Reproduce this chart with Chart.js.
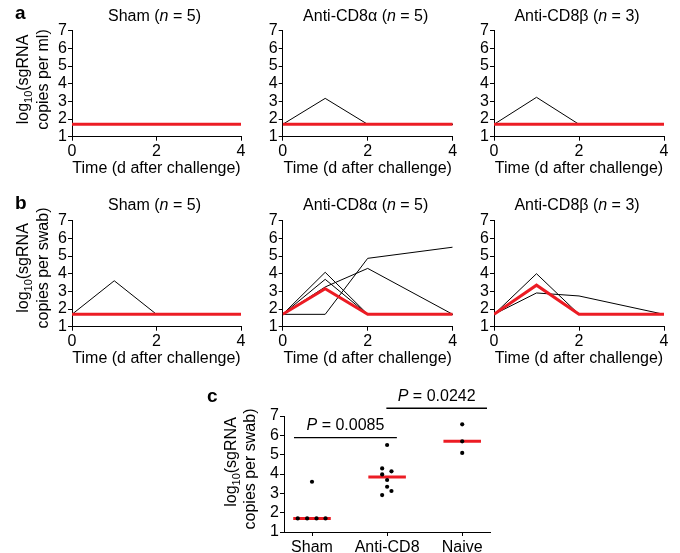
<!DOCTYPE html>
<html>
<head>
<meta charset="utf-8">
<script src="https://cdn.jsdelivr.net/npm/chart.js@4.4.1/dist/chart.umd.min.js"></script>
<style>
  html, body { margin: 0; padding: 0; background: #fff; }
  #wrap { position: relative; width: 680px; height: 553px; }
  #wrap canvas { position: absolute; left: 0; top: 0; }
</style>
</head>
<body>
<div id="wrap"></div>
<script>
// ── Data ──────────────────────────────────────────────────
const days = [0, 1, 2, 4];
const dayTicks = [0, 2, 4];
const logMin = 1;
const logMax = 7;

// a: sgRNA copies per ml, one array per animal, plus the median
const aShamAnimals = [
  [1.7, 1.7, 1.7, 1.7],
  [1.7, 1.7, 1.7, 1.7],
  [1.7, 1.7, 1.7, 1.7],
  [1.7, 1.7, 1.7, 1.7],
  [1.7, 1.7, 1.7, 1.7],
];
const aShamMedian = [1.7, 1.7, 1.7, 1.7];
const aCD8aAnimals = [
  [1.7, 3.17, 1.7, 1.7],
  [1.7, 1.7, 1.7, 1.7],
  [1.7, 1.7, 1.7, 1.7],
  [1.7, 1.7, 1.7, 1.7],
  [1.7, 1.7, 1.7, 1.7],
];
const aCD8aMedian = [1.7, 1.7, 1.7, 1.7];
const aCD8bAnimals = [
  [1.7, 3.23, 1.7, 1.7],
  [1.7, 1.7, 1.7, 1.7],
  [1.7, 1.7, 1.7, 1.7],
];
const aCD8bMedian = [1.7, 1.7, 1.7, 1.7];

// b: sgRNA copies per swab
const bShamAnimals = [
  [1.7, 3.6, 1.7, 1.7],
  [1.7, 1.7, 1.7, 1.7],
  [1.7, 1.7, 1.7, 1.7],
  [1.7, 1.7, 1.7, 1.7],
  [1.7, 1.7, 1.7, 1.7],
];
const bShamMedian = [1.7, 1.7, 1.7, 1.7];
const bCD8aAnimals = [
  [1.7, 4.08, 1.7, 1.7],
  [1.7, 3.68, 1.7, 1.7],
  [1.7, 3.25, 4.3, 1.7],
  [1.7, 1.7, 4.87, 5.5],
  [1.7, 3.15, 1.7, 1.7],
];
const bCD8aMedian = [1.7, 3.15, 1.7, 1.7];
const bCD8bAnimals = [
  [1.7, 4.0, 1.7, 1.7],
  [1.7, 2.91, 2.74, 1.7],
  [1.7, 3.35, 1.7, 1.7],
];
const bCD8bMedian = [1.7, 3.35, 1.7, 1.7];

// c: peak sgRNA per swab by group
const groups = ['Sham', 'Anti-CD8', 'Naive'];
const cShamValues = [1.7, 1.7, 1.7, 1.7, 3.6];
const cShamJitter = [-0.19, -0.065, 0.06, 0.18, 0];
const cCD8Values = [5.5, 4.29, 4.14, 3.98, 3.69, 3.34, 3.12, 2.91];
const cCD8Jitter = [0, -0.066, 0.058, -0.066, 0, 0, 0.058, -0.066];
const cNaiveValues = [6.57, 5.69, 5.09];
const cNaiveJitter = [0, 0, 0];
const cMedians = [1.7, 3.84, 5.69];
const pLabels = ['0.0085', '0.0242'];
const pBars = [[0.76, 2.13, 5.88], [1.99, 3.33, 7.4]];   // x from, x to, y

// ── Look ──────────────────────────────────────────────────
const FONT = '"Liberation Sans", Arial, Helvetica, sans-serif';
const RED = '#ec1c24';
const W = 680, H = 553;
const wrap = document.getElementById('wrap');

function addCanvas() {
  const c = document.createElement('canvas');
  c.width = W;
  c.height = H;
  wrap.appendChild(c);
  return c;
}

function axis(extra) {
  return Object.assign({
    grid: { display: true, drawOnChartArea: false, drawTicks: true, tickLength: 4, color: '#000', lineWidth: 1 },
    border: { display: true, color: '#000', width: 1 },
  }, extra);
}

// draw a run of text pieces ({t, size, italic, dy}) centred on cx
function drawRuns(ctx, runs, cx, y) {
  const fontOf = (r) => `${r.italic ? 'italic ' : ''}${r.size || 16}px ${FONT}`;
  let total = 0;
  runs.forEach((r) => { ctx.font = fontOf(r); total += ctx.measureText(r.t).width; });
  let x = cx - total / 2;
  ctx.textAlign = 'left';
  ctx.textBaseline = 'alphabetic';
  runs.forEach((r) => {
    ctx.font = fontOf(r);
    ctx.fillText(r.t, x, y + (r.dy || 0));
    x += ctx.measureText(r.t).width;
  });
}

// titles, panel letters and rotated y labels
const panelText = {
  id: 'panelText',
  afterDraw(chart, args, o) {
    const { ctx, chartArea: ca } = chart;
    ctx.save();
    ctx.fillStyle = '#000';
    if (o.title) drawRuns(ctx, o.title, (ca.left + ca.right) / 2 - 2, o.titleY);
    if (o.letter) {
      ctx.font = `bold 19px ${FONT}`;
      ctx.textAlign = 'left';
      ctx.textBaseline = 'alphabetic';
      ctx.fillText(o.letter, o.letterX, o.letterY);
    }
    if (o.yLabel) {
      o.yLabel.forEach((line) => {
        ctx.save();
        ctx.translate(line.x, line.cy);
        ctx.rotate(-Math.PI / 2);
        drawRuns(ctx, line.runs, 0, 0);
        ctx.restore();
      });
    }
    if (o.pTexts) {
      const xs = chart.scales.x, ys = chart.scales.y;
      o.pTexts.forEach((p) => {
        const cx = (xs.getPixelForValue(p.bar[0]) + xs.getPixelForValue(p.bar[1])) / 2;
        const y = ys.getPixelForValue(p.bar[2]) - 7.5;
        drawRuns(ctx, [{ t: 'P', italic: true }, { t: ' = ' + p.label }], cx, y);
      });
    }
    ctx.restore();
  },
};

function logLabel(second, x1, x2, cy1, cy2) {
  return [
    { x: x1, cy: cy1, runs: [{ t: 'log' }, { t: '10', size: 11, dy: 4 }, { t: '(sgRNA' }] },
    { x: x2, cy: cy2, runs: [{ t: second }] },
  ];
}

function titleRuns(name, n) {
  return [{ t: name + ' (' }, { t: 'n', italic: true }, { t: ' = ' + n + ')' }];
}

const tickFont = { family: FONT, size: 16 };

// ── Line panels (a, b) ───────────────────────────────────
function linePanel(area, animals, median, text) {
  const pts = (vals) => vals.map((v, i) => ({ x: days[i], y: v }));
  const datasets = animals.map((a) => ({
    data: pts(a), borderColor: '#000', borderWidth: 1, pointRadius: 0, order: 1,
  }));
  datasets.push({ data: pts(median), borderColor: RED, borderWidth: 3, pointRadius: 0, order: 0 });

  new Chart(addCanvas(), {
    type: 'line',
    data: { datasets },
    options: {
      responsive: false,
      animation: false,
      events: [],
      layout: { padding: { left: 0, top: area.t, right: W - area.r, bottom: H - area.xBottom } },
      scales: {
        x: axis({
          type: 'linear', min: 0, max: 4,
          afterBuildTicks: (s) => { s.ticks = dayTicks.map((v) => ({ value: v })); },
          afterFit: (s) => { s.height = area.xBottom - area.b; },
          ticks: { color: '#000', font: tickFont, padding: 1, maxRotation: 0, autoSkip: false },
          title: { display: true, text: 'Time (d after challenge)', color: '#000', font: tickFont, padding: 0 },
        }),
        y: axis({
          min: logMin, max: logMax,
          afterFit: (s) => { s.width = area.l; },
          ticks: { stepSize: 1, color: '#000', font: tickFont, padding: 1, autoSkip: false },
        }),
      },
      plugins: { legend: { display: false }, tooltip: { enabled: false }, panelText: text },
    },
    plugins: [panelText],
  });
}

const cols = [[72, 241], [282.7, 452.7], [494, 664]];
const rowA = { t: 30.7, b: 136.7, xBottom: 178.3 };
const rowB = { t: 220.7, b: 326.7, xBottom: 368.3 };
const box = (row, c) => ({ l: cols[c][0], r: cols[c][1], t: row.t, b: row.b, xBottom: row.xBottom });

linePanel(box(rowA, 0), aShamAnimals, aShamMedian, {
  title: titleRuns('Sham', 5), titleY: 20.5, letter: 'a', letterX: 15, letterY: 18.5,
  yLabel: logLabel('copies per ml)', 27.5, 47.5, 79.5, 79.5),
});
linePanel(box(rowA, 1), aCD8aAnimals, aCD8aMedian, { title: titleRuns('Anti-CD8α', 5), titleY: 20.5 });
linePanel(box(rowA, 2), aCD8bAnimals, aCD8bMedian, { title: titleRuns('Anti-CD8β', 3), titleY: 20.5 });

linePanel(box(rowB, 0), bShamAnimals, bShamMedian, {
  title: titleRuns('Sham', 5), titleY: 210, letter: 'b', letterX: 15, letterY: 208.5,
  yLabel: logLabel('copies per swab)', 27.5, 47.5, 268, 268),
});
linePanel(box(rowB, 1), bCD8aAnimals, bCD8aMedian, { title: titleRuns('Anti-CD8α', 5), titleY: 210 });
linePanel(box(rowB, 2), bCD8bAnimals, bCD8bMedian, { title: titleRuns('Anti-CD8β', 3), titleY: 210 });

// ── Dot plot (c) ─────────────────────────────────────────
const cArea = { l: 284, r: 490, t: 416, b: 532, xBottom: 553 };
const dots = (vals, jit, g) => vals.map((v, i) => ({ x: g + 1 + jit[i], y: v }));
const cDatasets = [
  { type: 'scatter', data: dots(cShamValues, cShamJitter, 0), pointRadius: 2.1, backgroundColor: '#000', borderWidth: 0, order: 0 },
  { type: 'scatter', data: dots(cCD8Values, cCD8Jitter, 1), pointRadius: 2.1, backgroundColor: '#000', borderWidth: 0, order: 0 },
  { type: 'scatter', data: dots(cNaiveValues, cNaiveJitter, 2), pointRadius: 2.1, backgroundColor: '#000', borderWidth: 0, order: 0 },
];
cMedians.forEach((m, g) => {
  cDatasets.push({
    type: 'line', data: [{ x: g + 1 - 0.25, y: m }, { x: g + 1 + 0.25, y: m }],
    borderColor: RED, borderWidth: 3, pointRadius: 0, order: 1,
  });
});
pBars.forEach((b) => {
  cDatasets.push({
    type: 'line', data: [{ x: b[0], y: b[2] }, { x: b[1], y: b[2] }],
    borderColor: '#000', borderWidth: 1.3, pointRadius: 0, clip: false, order: 2,
  });
});

new Chart(addCanvas(), {
  type: 'scatter',
  data: { datasets: cDatasets },
  options: {
    responsive: false,
    animation: false,
    events: [],
    layout: { padding: { left: 0, top: cArea.t, right: W - cArea.r, bottom: 0 } },
    scales: {
      x: axis({
        type: 'linear', min: 0.627, max: 3.37,
        afterBuildTicks: (s) => { s.ticks = groups.map((_, i) => ({ value: i + 1 })); },
        afterFit: (s) => { s.height = cArea.xBottom - cArea.b; },
        ticks: {
          color: '#000', font: tickFont, padding: 2, maxRotation: 0, autoSkip: false,
          callback: (v) => groups[v - 1],
        },
      }),
      y: axis({
        min: logMin, max: logMax,
        afterFit: (s) => { s.width = cArea.l; },
        ticks: { stepSize: 1, color: '#000', font: tickFont, padding: 1, autoSkip: false },
      }),
    },
    plugins: {
      legend: { display: false },
      tooltip: { enabled: false },
      panelText: {
        letter: 'c', letterX: 207, letterY: 402,
        yLabel: logLabel('copies per swab)', 236, 255, 462, 469),
        pTexts: pBars.map((b, i) => ({ bar: b, label: pLabels[i] })),
      },
    },
  },
  plugins: [panelText],
});
</script>
</body>
</html>
